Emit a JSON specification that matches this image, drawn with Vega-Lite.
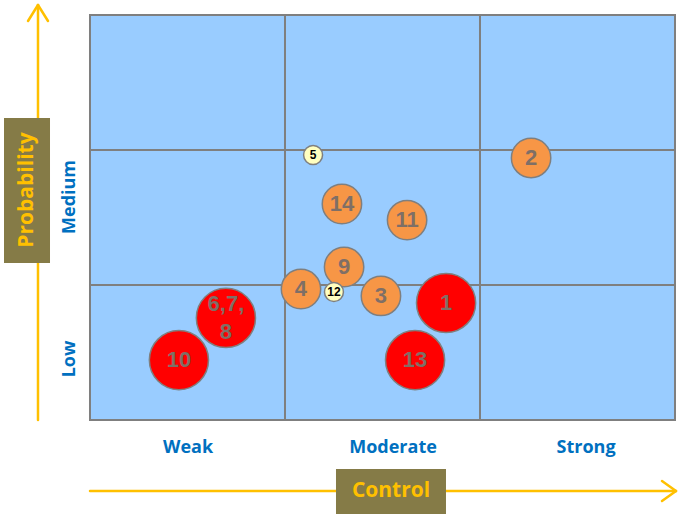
{
  "$schema": "https://vega.github.io/schema/vega-lite/v6.json",
  "width": 683,
  "height": 521,
  "padding": 0,
  "autosize": {"type": "fit", "contains": "padding"},
  "background": "white",
  "config": {"view": {"stroke": null}},
  "encoding": {
    "x": {"field": "x", "type": "quantitative", "axis": null, "scale": {"domain": [-0.461538, 3.041026], "nice": false, "zero": false}},
    "y": {"field": "y", "type": "quantitative", "axis": null, "scale": {"domain": [-0.748148, 3.111111], "nice": false, "zero": false}}
  },
  "layer": [
    {
      "data": {"values": [{"x": 0, "x2": 3, "y": 0, "y2": 3}]},
      "mark": {"type": "rect", "fill": "#99CCFF", "stroke": "#7F7F7F", "strokeWidth": 2},
      "encoding": {"x2": {"field": "x2"}, "y2": {"field": "y2"}}
    },
    {
      "data": {"values": [
        {"x": 1, "x2": 1, "y": 0, "y2": 3},
        {"x": 2, "x2": 2, "y": 0, "y2": 3},
        {"x": 0, "x2": 3, "y": 1, "y2": 1},
        {"x": 0, "x2": 3, "y": 2, "y2": 2}
      ]},
      "mark": {"type": "rule", "stroke": "#7F7F7F", "strokeWidth": 2},
      "encoding": {"x2": {"field": "x2"}, "y2": {"field": "y2"}}
    },
    {
      "data": {"values": [
        {"x": -0.2667, "x2": -0.2667, "y": 0, "y2": 3.0741},
        {"x": -0.3179, "x2": -0.2667, "y": 2.9556, "y2": 3.0741},
        {"x": -0.2154, "x2": -0.2667, "y": 2.9556, "y2": 3.0741},
        {"x": 0, "x2": 3.0051, "y": -0.5259, "y2": -0.5259},
        {"x": 2.9333, "x2": 3.0051, "y": -0.4519, "y2": -0.5259},
        {"x": 2.9333, "x2": 3.0051, "y": -0.6, "y2": -0.5259}
      ]},
      "mark": {"type": "rule", "stroke": "#FFC000", "strokeWidth": 2.5, "strokeCap": "round"},
      "encoding": {"x2": {"field": "x2"}, "y2": {"field": "y2"}}
    },
    {
      "data": {"values": [
        {"x": -0.441, "x2": -0.2051, "y": 2.237, "y2": 1.163},
        {"x": 1.2615, "x2": 1.8256, "y": -0.363, "y2": -0.6963}
      ]},
      "mark": {"type": "rect", "fill": "#857B47"},
      "encoding": {"x2": {"field": "x2"}, "y2": {"field": "y2"}}
    },
    {
      "data": {"values": [
        {"text": "Probability", "x": -0.3231, "y": 1.7037, "angle": 270},
        {"text": "Control", "x": 1.5436, "y": -0.5259, "angle": 0}
      ]},
      "mark": {"type": "text", "font": "Open Sans", "fontWeight": "bold", "fontSize": 21, "color": "#FFC000", "align": "center", "baseline": "middle"},
      "encoding": {"text": {"field": "text"}, "angle": {"field": "angle", "type": "quantitative", "scale": null}}
    },
    {
      "data": {"values": [
        {"text": "Weak", "x": 0.503, "y": -0.207, "angle": 0},
        {"text": "Moderate", "x": 1.554, "y": -0.207, "angle": 0},
        {"text": "Strong", "x": 2.544, "y": -0.207, "angle": 0},
        {"text": "Low", "x": -0.1026, "y": 0.452, "angle": 270},
        {"text": "Medium", "x": -0.1026, "y": 1.652, "angle": 270}
      ]},
      "mark": {"type": "text", "font": "Open Sans", "fontWeight": "bold", "fontSize": 18, "color": "#0070C0", "align": "center", "baseline": "middle"},
      "encoding": {"text": {"field": "text"}, "angle": {"field": "angle", "type": "quantitative", "scale": null}}
    },
    {
      "data": {"name": "risks"},
      "mark": {"type": "circle", "opacity": 1, "stroke": "#7F7F7F", "strokeWidth": 1.5},
      "encoding": {
        "size": {"field": "level", "type": "nominal", "legend": null, "scale": {"type": "ordinal", "domain": ["low", "medium", "high"], "range": [360, 1550, 3500]}},
        "fill": {"field": "level", "type": "nominal", "legend": null, "scale": {"domain": ["low", "medium", "high"], "range": ["#FFFFC0", "#F79646", "#FF0000"]}}
      }
    },
    {
      "data": {"name": "risks"},
      "transform": [{"filter": "indexof(datum.label, '\\n') < 0"}],
      "mark": {"type": "text", "font": "Liberation Sans", "fontWeight": "bold", "align": "center", "baseline": "middle"},
      "encoding": {
        "text": {"field": "label"},
        "color": {"condition": {"test": "datum.level === 'low'", "value": "#000000"}, "value": "#7F6F66"},
        "size": {"condition": {"test": "datum.level === 'low'", "value": 12}, "value": 22}
      }
    },
    {
      "data": {"name": "risks"},
      "transform": [{"filter": "indexof(datum.label, '\\n') >= 0"}],
      "mark": {"type": "text", "font": "Liberation Sans", "fontWeight": "bold", "align": "center", "baseline": "middle", "lineBreak": "\n", "lineHeight": 28, "dy": -14, "fontSize": 22, "color": "#7F6F66"},
      "encoding": {
        "text": {"field": "label"}
      }
    }
  ],
  "datasets": {
    "risks": [
      {"label": "1", "x": 1.826, "y": 0.867, "level": "high"},
      {"label": "2", "x": 2.262, "y": 1.941, "level": "medium"},
      {"label": "3", "x": 1.492, "y": 0.919, "level": "medium"},
      {"label": "4", "x": 1.082, "y": 0.97, "level": "medium"},
      {"label": "5", "x": 1.144, "y": 1.963, "level": "low"},
      {"label": "6,7,\n8", "x": 0.697, "y": 0.756, "level": "high"},
      {"label": "9", "x": 1.303, "y": 1.133, "level": "medium"},
      {"label": "10", "x": 0.456, "y": 0.444, "level": "high"},
      {"label": "11", "x": 1.626, "y": 1.481, "level": "medium"},
      {"label": "12", "x": 1.251, "y": 0.948, "level": "low"},
      {"label": "13", "x": 1.667, "y": 0.444, "level": "high"},
      {"label": "14", "x": 1.292, "y": 1.6, "level": "medium"}
    ]
  }
}
